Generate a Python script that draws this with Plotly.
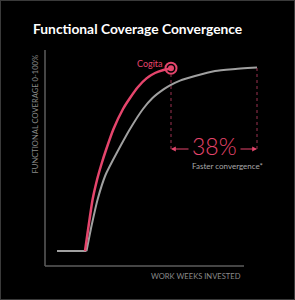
import plotly.graph_objects as go

# Data (work weeks vs functional coverage %)
cogita_weeks = [8.0, 8.6, 9.5, 10.4, 11.3, 12.2, 13.7, 15.6, 17.0, 18.6, 20.3, 22.0, 23.7, 25.2]
cogita_cov = [7.5, 18.0, 33.0, 43.0, 51.0, 58.0, 68.5, 78.5, 84.0, 89.5, 93.8, 96.5, 98.0, 98.9]
base_weeks = [2.4, 8.3, 9.3, 10.6, 12.1, 13.7, 15.2, 17.0, 19.6, 21.5, 23.7, 25.0, 27.0, 30.0, 34.0, 37.5, 42.4]
base_cov = [7.5, 7.5, 20.0, 34.0, 45.5, 53.5, 60.5, 68.5, 78.5, 84.0, 88.3, 90.3, 92.7, 95.0, 97.5, 98.4, 99.2]
speedup_label = "38%"
speedup_caption = "Faster convergence*"
series_label = "Cogita"

PINK = "#e5456c"
DARK_PINK = "#9b3350"
GRAY = "#a0a0a0"
AXIS = "#5c5c5c"
FONT = "Lato"

W, H = 295, 300
L, R, T, B = 45, 35, 50, 34
PW, PH = W - L - R, H - T - B

def px_x(p):
    return (p - L) / PW

def px_y(p):
    return (H - B - p) / PH

fig = go.Figure()
# flat start of the baseline
fig.add_trace(go.Scatter(x=base_weeks[:2], y=base_cov[:2], mode="lines",
                         line=dict(color=GRAY, width=2), hoverinfo="skip", showlegend=False))
fig.add_trace(go.Scatter(x=base_weeks[1:], y=base_cov[1:], mode="lines",
                         line=dict(color=GRAY, width=2, shape="spline", smoothing=0.5),
                         hoverinfo="skip", showlegend=False))
fig.add_trace(go.Scatter(x=cogita_weeks, y=cogita_cov, mode="lines",
                         line=dict(color=PINK, width=2.5, shape="spline", smoothing=0.5),
                         hoverinfo="skip", showlegend=False))
fig.add_trace(go.Scatter(x=[cogita_weeks[-1]], y=[cogita_cov[-1]], mode="markers",
                         marker=dict(symbol="circle-open", size=11, color=PINK, line=dict(width=2, color=PINK)),
                         hoverinfo="skip", showlegend=False))
fig.add_trace(go.Scatter(x=[cogita_weeks[-1]], y=[cogita_cov[-1]], mode="markers",
                         marker=dict(symbol="circle", size=6, color=PINK),
                         hoverinfo="skip", showlegend=False))

arrow_y = 58.5
x_a, x_b = cogita_weeks[-1], base_weeks[-1]
mid = (x_a + x_b) / 2

shapes = [
    dict(type="line", xref="x", yref="y", x0=x_a, x1=x_a, y0=arrow_y, y1=cogita_cov[-1] - 2.5,
         line=dict(color=DARK_PINK, width=1, dash="dot")),
    dict(type="line", xref="x", yref="y", x0=x_b, x1=x_b, y0=arrow_y, y1=base_cov[-1],
         line=dict(color=DARK_PINK, width=1, dash="dot")),
    dict(type="line", xref="paper", yref="paper", x0=0, x1=px_x(244), y0=0, y1=0,
         line=dict(color=AXIS, width=1.5)),
    dict(type="line", xref="paper", yref="paper", x0=0, x1=0, y0=0, y1=1,
         line=dict(color=AXIS, width=1.5)),
    dict(type="rect", xref="paper", yref="paper", x0=px_x(0), x1=px_x(W), y0=px_y(H), y1=px_y(0),
         line=dict(color="#3a3a3a", width=2), layer="above"),
]

annotations = [
    dict(x=x_a, y=arrow_y, ax=mid - 4.8, ay=arrow_y, xref="x", yref="y", axref="x", ayref="y",
         text="", showarrow=True, arrowhead=2, arrowsize=0.8, arrowwidth=1.2, arrowcolor=PINK),
    dict(x=x_b, y=arrow_y, ax=mid + 5.0, ay=arrow_y, xref="x", yref="y", axref="x", ayref="y",
         text="", showarrow=True, arrowhead=2, arrowsize=0.8, arrowwidth=1.2, arrowcolor=PINK),
    dict(x=mid, y=arrow_y + 1.5, xref="x", yref="y", text=speedup_label, showarrow=False,
         font=dict(family=FONT, size=23, color=PINK, weight=300),
         xanchor="center", yanchor="middle"),
    dict(x=36.4, y=50.0, xref="x", yref="y", text=speedup_caption, showarrow=False,
         font=dict(family=FONT, size=8, color="#a8a8a8"), xanchor="center", yanchor="middle"),
    dict(x=21, y=101.5, xref="x", yref="y", text=series_label, showarrow=False,
         font=dict(family=FONT, size=9, color=PINK), xanchor="center", yanchor="middle"),
    dict(x=px_x(35), y=px_y(53), xref="paper", yref="paper", text="FUNCTIONAL COVERAGE 0-100%",
         textangle=-90, showarrow=False, font=dict(family=FONT, size=7.6, color="#8a8a8a"),
         xanchor="center", yanchor="top"),
    dict(x=px_x(243), y=px_y(276), xref="paper", yref="paper", text="WORK WEEKS INVESTED",
         showarrow=False, font=dict(family=FONT, size=7.6, color="#8a8a8a"),
         xanchor="right", yanchor="middle"),
    dict(x=px_x(31), y=px_y(28), xref="paper", yref="paper", text="Functional Coverage Convergence",
         showarrow=False, font=dict(family=FONT, size=13.8, color="white", weight=700),
         xanchor="left", yanchor="middle"),
]

fig.update_layout(
    width=W, height=H, margin=dict(l=L, r=R, t=T, b=B),
    paper_bgcolor="black", plot_bgcolor="black",
    xaxis=dict(range=[0, PW / 5], visible=False, fixedrange=True),
    yaxis=dict(range=[0, PH / 2], visible=False, fixedrange=True),
    shapes=shapes, annotations=annotations,
)

fig.write_html("out.html", config={"displayModeBar": False})
